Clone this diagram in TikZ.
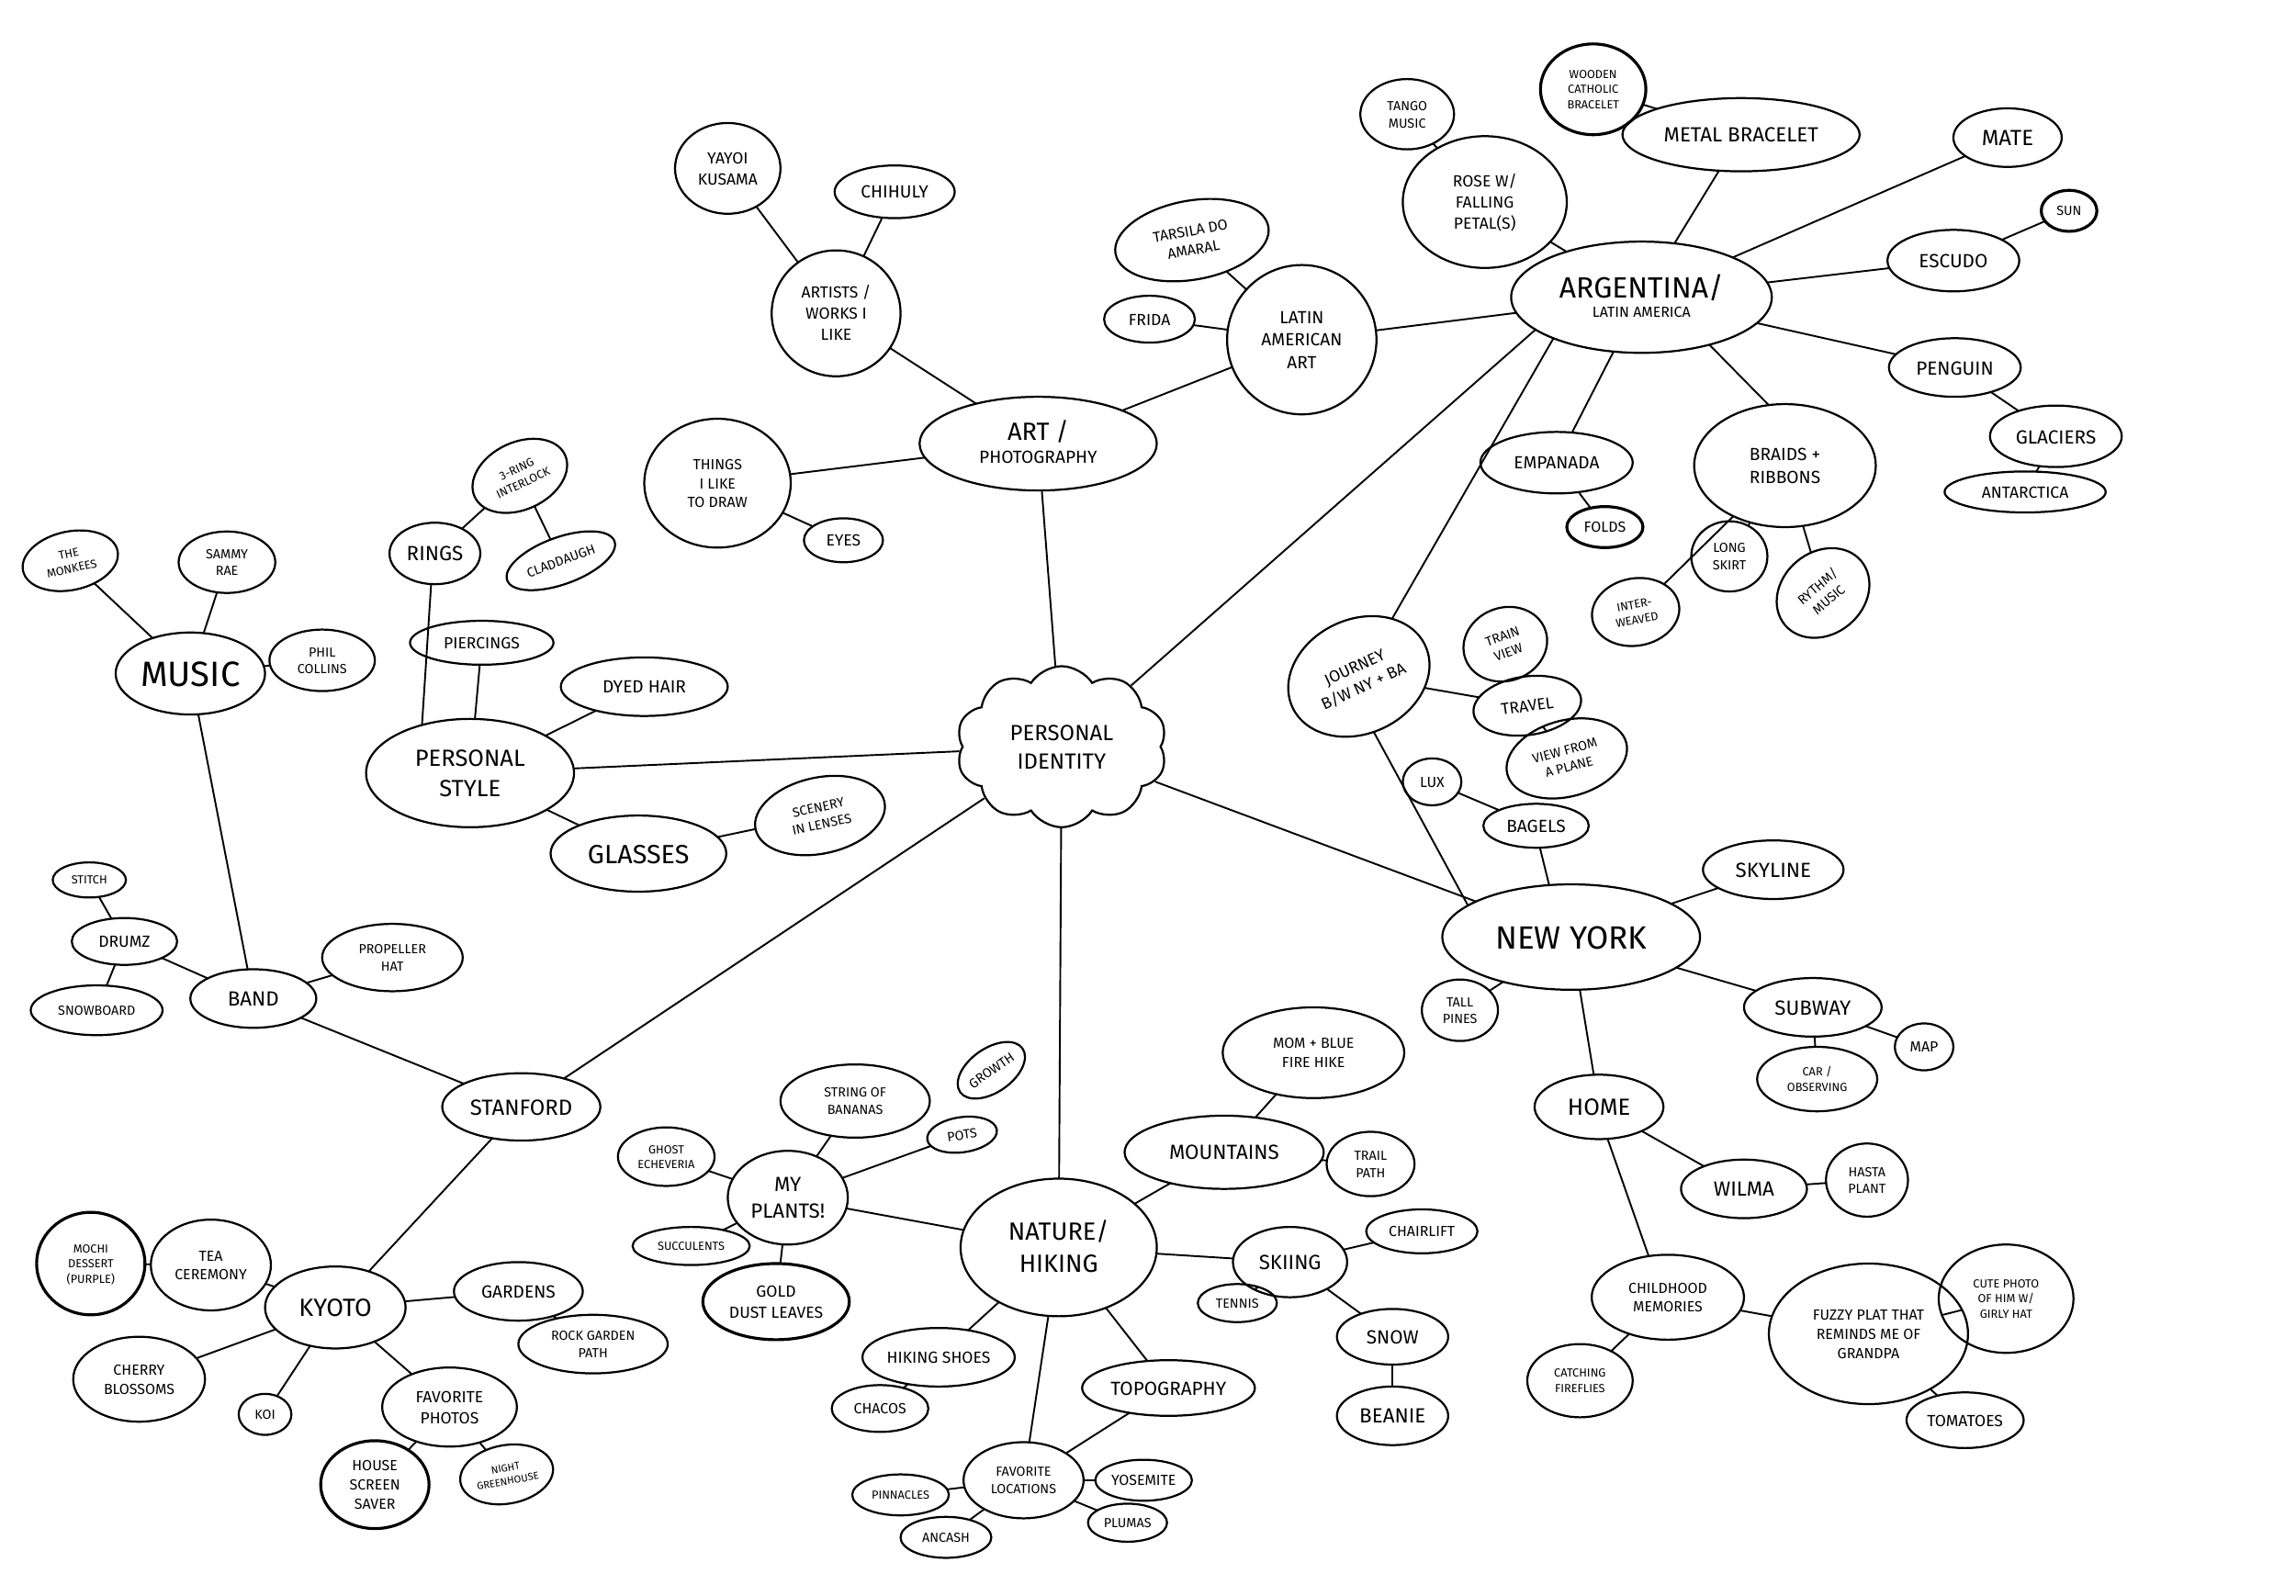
\documentclass[tikz,border=0pt]{standalone}
\usepackage{fontspec}
\setmainfont{Fira Sans}
\usetikzlibrary{shapes.geometric,shapes.symbols}
\newcommand\lbl[1]{\makebox[0pt]{\smash{\raisebox{-0.36em}{\begin{tabular}{@{}c@{}}#1\end{tabular}}}}}
\newcommand\fsz[1]{\fontsize{#1}{\fpeval{1.3*#1}}\selectfont}
\tikzset{
  ell/.style 2 args={ellipse, draw, line width=1.4pt, inner sep=0pt, outer sep=0pt, minimum width=#1pt, minimum height=#2pt},
  fs/.style={font=\fsz{#1}},
  conn/.style={line width=1.2pt},
}
\begin{document}
\begin{tikzpicture}[x=1pt,y=-1pt]
\fill[white] (0,0) rectangle (1568,1090);
\useasboundingbox (0,0) rectangle (1568,1090);

% centre
\node[cloud, draw, line width=1.4pt, cloud puffs=10, cloud puff arc=115, cloud ignores aspect, minimum width=144pt, minimum height=110pt, inner sep=0pt, fs=15] (pi) at (725,510) {\lbl{PERSONAL\\IDENTITY}};

% art
\node[ell={162}{64},fs=12] (art) at (709,303) {\lbl{{\fsz{17}ART /}\\PHOTOGRAPHY}};
\node[ell={88}{86},fs=11] (artists) at (571,214) {\lbl{ARTISTS /\\WORKS I\\LIKE}};
\node[ell={72}{62},fs=11] (yayoi) at (497,115) {\lbl{YAYOI\\KUSAMA}};
\node[ell={82}{36},fs=12] (chihuly) at (611,131) {\lbl{CHIHULY}};
\node[ell={100}{88},fs=10] (things) at (490,330) {\lbl{THINGS\\I LIKE\\TO DRAW}};
\node[ell={54}{30},fs=11] (eyes) at (576,369) {\lbl{EYES}};
\node[ell={102}{102},fs=12] (latam) at (889,232) {\lbl{LATIN\\AMERICAN\\ART}};
\node[ell={106}{54},fs=10,rotate=10] (tarsila) at (814,164) {\lbl{TARSILA DO\\AMARAL}};
\node[ell={62}{32},fs=11] (frida) at (785,218) {\lbl{FRIDA}};

% argentina
\node[ell={178}{76},fs=10] (arg) at (1121,203) {\lbl{{\fsz{20}ARGENTINA/}\\LATIN AMERICA}};
\node[ell={64}{48},fs=9] (tango) at (961,78) {\lbl{TANGO\\MUSIC}};
\node[ell={112}{90},fs=11] (rose) at (1014,138) {\lbl{ROSE W/\\FALLING\\PETAL(S)}};
\node[ell={72}{62},fs=8,line width=2pt] (wooden) at (1088,61) {\lbl{WOODEN\\CATHOLIC\\BRACELET}};
\node[ell={162}{50},fs=14] (metal) at (1189,92) {\lbl{METAL BRACELET}};
\node[ell={74}{40},fs=15] (mate) at (1371,94) {\lbl{MATE}};
\node[ell={90}{42},fs=13] (escudo) at (1334,178) {\lbl{ESCUDO}};
\node[ell={38}{28},fs=9,line width=2pt] (sun) at (1413,144) {\lbl{SUN}};
\node[ell={90}{40},fs=13] (penguin) at (1335,251) {\lbl{PENGUIN}};
\node[ell={90}{42},fs=13] (glaciers) at (1404,298) {\lbl{GLACIERS}};
\node[ell={110}{28},fs=11] (antarctica) at (1383,336) {\lbl{ANTARCTICA}};
\node[ell={104}{42},fs=12] (empanada) at (1063,316) {\lbl{EMPANADA}};
\node[ell={52}{28},fs=10,line width=2pt] (folds) at (1096,360) {\lbl{FOLDS}};
\node[ell={124}{84},fs=12] (braids) at (1219,318) {\lbl{BRAIDS +\\RIBBONS}};
\node[ell={52}{48},fs=9] (skirt) at (1181,380) {\lbl{LONG\\SKIRT}};
\node[ell={60}{46},fs=8,rotate=10] (interw) at (1117,418) {\lbl{INTER-\\WEAVED}};
\node[ell={68}{56},fs=9,rotate=40] (rythm) at (1245,405) {\lbl{RYTHM/\\MUSIC}};

% new york
\node[ell={100}{78},fs=11,rotate=25] (journey) at (928,462) {\lbl{JOURNEY\\B/W NY + BA}};
\node[ell={58}{50},fs=9,rotate=20] (train) at (1028,440) {\lbl{TRAIN\\VIEW}};
\node[ell={74}{40},fs=11,rotate=8] (travel) at (1043,482) {\lbl{TRAVEL}};
\node[ell={84}{52},fs=9,rotate=15] (plane) at (1070,518) {\lbl{VIEW FROM\\A PLANE}};
\node[ell={40}{32},fs=10] (lux) at (978,534) {\lbl{LUX}};
\node[ell={72}{30},fs=12] (bagels) at (1049,564) {\lbl{BAGELS}};
\node[ell={176}{72},fs=22] (ny) at (1073,640) {\lbl{NEW YORK}};
\node[ell={96}{40},fs=14] (skyline) at (1211,594) {\lbl{SKYLINE}};
\node[ell={52}{42},fs=9] (pines) at (997,690) {\lbl{TALL\\PINES}};
\node[ell={94}{40},fs=14] (subway) at (1238,688) {\lbl{SUBWAY}};
\node[ell={82}{44},fs=8] (car) at (1241,737) {\lbl{CAR /\\OBSERVING}};
\node[ell={40}{32},fs=10] (map) at (1314,715) {\lbl{MAP}};
\node[ell={88}{44},fs=16] (home) at (1092,756) {\lbl{HOME}};
\node[ell={86}{40},fs=14] (wilma) at (1191,812) {\lbl{WILMA}};
\node[ell={56}{50},fs=9] (hasta) at (1275,806) {\lbl{HASTA\\PLANT}};
\node[ell={104}{58},fs=10] (child) at (1139,886) {\lbl{CHILDHOOD\\MEMORIES}};
\node[ell={72}{50},fs=8] (fire) at (1079,943) {\lbl{CATCHING\\FIREFLIES}};
\node[ell={136}{96},fs=10] (fuzzy) at (1276,911) {\lbl{FUZZY PLAT THAT\\REMINDS ME OF\\GRANDPA}};
\node[ell={92}{74},fs=8] (cute) at (1370,887) {\lbl{CUTE PHOTO\\OF HIM W/\\GIRLY HAT}};
\node[ell={80}{38},fs=11] (tomatoes) at (1342,970) {\lbl{TOMATOES}};

% nature
\node[ell={134}{94},fs=17] (nature) at (723,852) {\lbl{NATURE/\\HIKING}};
\node[ell={136}{50},fs=14] (mount) at (836,787) {\lbl{MOUNTAINS}};
\node[ell={124}{62},fs=10] (mom) at (897,719) {\lbl{MOM + BLUE\\FIRE HIKE}};
\node[ell={60}{44},fs=9] (trail) at (936,795) {\lbl{TRAIL\\PATH}};
\node[ell={78}{48},fs=14] (skiing) at (881,862) {\lbl{SKIING}};
\node[ell={76}{30},fs=10] (chair) at (971,841) {\lbl{CHAIRLIFT}};
\node[ell={54}{26},fs=9] (tennis) at (845,890) {\lbl{TENNIS}};
\node[ell={76}{38},fs=13] (snow) at (951,913) {\lbl{SNOW}};
\node[ell={76}{40},fs=14] (beanie) at (951,967) {\lbl{BEANIE}};
\node[ell={118}{38},fs=13] (topo) at (798,948) {\lbl{TOPOGRAPHY}};
\node[ell={104}{40},fs=11] (shoes) at (641,927) {\lbl{HIKING SHOES}};
\node[ell={66}{32},fs=10] (chacos) at (601,962) {\lbl{CHACOS}};
\node[ell={82}{52},fs=9] (favloc) at (699,1011) {\lbl{FAVORITE\\LOCATIONS}};
\node[ell={66}{28},fs=10] (yosemite) at (781,1011) {\lbl{YOSEMITE}};
\node[ell={54}{26},fs=9] (plumas) at (770,1040) {\lbl{PLUMAS}};
\node[ell={66}{28},fs=8] (pinn) at (615,1021) {\lbl{PINNACLES}};
\node[ell={62}{28},fs=9] (ancash) at (646,1050) {\lbl{ANCASH}};
\node[ell={82}{64},fs=14] (plants) at (538,818) {\lbl{MY\\PLANTS!}};
\node[ell={102}{50},fs=9] (string) at (584,752) {\lbl{STRING OF\\BANANAS}};
\node[ell={52}{30},fs=9,rotate=35] (growth) at (677,731) {\lbl{GROWTH}};
\node[ell={48}{24},fs=9,rotate=8] (pots) at (657,775) {\lbl{POTS}};
\node[ell={66}{40},fs=8] (ghost) at (455,790) {\lbl{GHOST\\ECHEVERIA}};
\node[ell={80}{26},fs=8] (succ) at (472,851) {\lbl{SUCCULENTS}};
\node[ell={100}{52},fs=11,line width=2pt] (gold) at (530,889) {\lbl{GOLD\\DUST LEAVES}};

% stanford
\node[ell={108}{46},fs=15] (stanford) at (356,756) {\lbl{STANFORD}};
\node[ell={96}{56},fs=17] (kyoto) at (229,893) {\lbl{KYOTO}};
\node[ell={82}{62},fs=10] (tea) at (144,864) {\lbl{TEA\\CEREMONY}};
\node[ell={74}{70},fs=8,line width=2pt] (mochi) at (62,863) {\lbl{MOCHI\\DESSERT\\(PURPLE)}};
\node[ell={90}{58},fs=10] (cherry) at (95,942) {\lbl{CHERRY\\BLOSSOMS}};
\node[ell={36}{28},fs=9] (koi) at (181,966) {\lbl{KOI}};
\node[ell={88}{40},fs=12] (gardens) at (354,882) {\lbl{GARDENS}};
\node[ell={102}{40},fs=9] (rock) at (405,918) {\lbl{ROCK GARDEN\\PATH}};
\node[ell={92}{54},fs=11] (favph) at (307,961) {\lbl{FAVORITE\\PHOTOS}};
\node[ell={74}{60},fs=10,line width=2pt] (house) at (256,1014) {\lbl{HOUSE\\SCREEN\\SAVER}};
\node[ell={64}{40},fs=7,rotate=10] (night) at (346,1007) {\lbl{NIGHT\\GREENHOUSE}};
\node[ell={86}{40},fs=14] (band) at (173,682) {\lbl{BAND}};
\node[ell={102}{56},fs=24] (music) at (130,460) {\lbl{MUSIC}};
\node[ell={66}{40},fs=8,rotate=12] (monkees) at (48,383) {\lbl{THE\\MONKEES}};
\node[ell={66}{42},fs=9] (sammy) at (155,384) {\lbl{SAMMY\\RAE}};
\node[ell={72}{42},fs=9] (phil) at (220,451) {\lbl{PHIL\\COLLINS}};
\node[ell={72}{32},fs=11] (drumz) at (85,643) {\lbl{DRUMZ}};
\node[ell={50}{24},fs=8] (stitch) at (61,601) {\lbl{STITCH}};
\node[ell={90}{34},fs=9] (snowb) at (66,690) {\lbl{SNOWBOARD}};
\node[ell={96}{46},fs=9] (prop) at (268,654) {\lbl{PROPELLER\\HAT}};

% personal style
\node[ell={142}{74},fs=16] (pstyle) at (321,528) {\lbl{PERSONAL\\STYLE}};
\node[ell={62}{42},fs=14] (rings) at (297,378) {\lbl{RINGS}};
\node[ell={68}{46},fs=8,rotate=25] (three) at (355,325) {\lbl{3-RING\\INTERLOCK}};
\node[ell={78}{32},fs=9,rotate=20] (cladd) at (383,383) {\lbl{CLADDAUGH}};
\node[ell={98}{30},fs=11] (pierc) at (329,439) {\lbl{PIERCINGS}};
\node[ell={114}{40},fs=12] (dyed) at (440,469) {\lbl{DYED HAIR}};
\node[ell={120}{52},fs=18] (glasses) at (436,583) {\lbl{GLASSES}};
\node[ell={90}{52},fs=9,rotate=12] (scenery) at (560,557) {\lbl{SCENERY\\IN LENSES}};

% connectors
\begin{scope}[conn]
\draw (pi) -- (art);
\draw (pi) -- (arg.197);
\draw (pi) -- (ny);
\draw (pi) -- (nature);
\draw (pi) -- (stanford);
\draw (pi) -- (pstyle);
\draw (art) -- (artists);
\draw (art) -- (things);
\draw (art) -- (latam);
\draw (artists) -- (yayoi);
\draw (artists) -- (chihuly);
\draw (things) -- (eyes);
\draw (latam) -- (tarsila);
\draw (latam) -- (frida);
\draw (latam) -- (arg);
\draw (arg) -- (rose);
\draw (rose) -- (tango);
\draw (arg) -- (metal);
\draw (metal) -- (wooden);
\draw (arg) -- (mate);
\draw (arg) -- (escudo);
\draw (escudo) -- (sun);
\draw (arg) -- (penguin);
\draw (penguin) -- (glaciers);
\draw (glaciers) -- (antarctica);
\draw (arg) -- (empanada);
\draw (empanada) -- (folds);
\draw (arg.-35) -- (braids.105);
\draw (braids) -- (skirt);
\draw (braids) -- (interw);
\draw (braids) -- (rythm);
\draw (arg.205) -- (journey);
\draw (journey) -- (travel);
\draw (travel) -- (train);
\draw (travel) -- (plane);
\draw (journey.-100) -- (ny.163);
\draw (bagels.-80) -- (ny.113);
\draw (bagels) -- (lux);
\draw (ny) -- (skyline);
\draw (ny) -- (pines);
\draw (ny) -- (subway);
\draw (subway) -- (car);
\draw (subway) -- (map);
\draw (ny) -- (home);
\draw (home) -- (wilma);
\draw (wilma) -- (hasta);
\draw (home.-75) -- (child.115);
\draw (child) -- (fire);
\draw (child) -- (fuzzy);
\draw (fuzzy) -- (cute);
\draw (fuzzy) -- (tomatoes);
\draw (nature) -- (mount);
\draw (mount) -- (mom);
\draw (mount) -- (trail);
\draw (nature) -- (skiing);
\draw (skiing) -- (chair);
\draw (skiing) -- (tennis);
\draw (skiing) -- (snow);
\draw (snow) -- (beanie);
\draw (nature) -- (topo);
\draw (topo) -- (favloc);
\draw (nature) -- (favloc);
\draw (nature) -- (shoes);
\draw (shoes) -- (chacos);
\draw (favloc) -- (yosemite);
\draw (favloc) -- (plumas);
\draw (favloc) -- (pinn);
\draw (favloc) -- (ancash);
\draw (nature) -- (plants);
\draw (plants) -- (string);
\draw (plants) -- (pots);
\draw (plants) -- (ghost);
\draw (plants) -- (succ);
\draw (plants) -- (gold);
\draw (stanford) -- (band);
\draw (stanford) -- (kyoto);
\draw (band) -- (music);
\draw (band) -- (drumz);
\draw (band) -- (prop);
\draw (drumz) -- (stitch);
\draw (drumz) -- (snowb);
\draw (music) -- (monkees);
\draw (music) -- (sammy);
\draw (music) -- (phil);
\draw (kyoto) -- (tea);
\draw (tea) -- (mochi);
\draw (kyoto) -- (cherry);
\draw (kyoto) -- (koi);
\draw (kyoto) -- (gardens);
\draw (gardens) -- (rock);
\draw (kyoto) -- (favph);
\draw (favph) -- (house);
\draw (favph) -- (night);
\draw (rings.-97) -- (pstyle.135);
\draw (rings) -- (three);
\draw (three) -- (cladd);
\draw (pstyle) -- (pierc);
\draw (pstyle) -- (dyed);
\draw (pstyle) -- (glasses);
\draw (glasses) -- (scenery);
\end{scope}
\end{tikzpicture}
\end{document}
